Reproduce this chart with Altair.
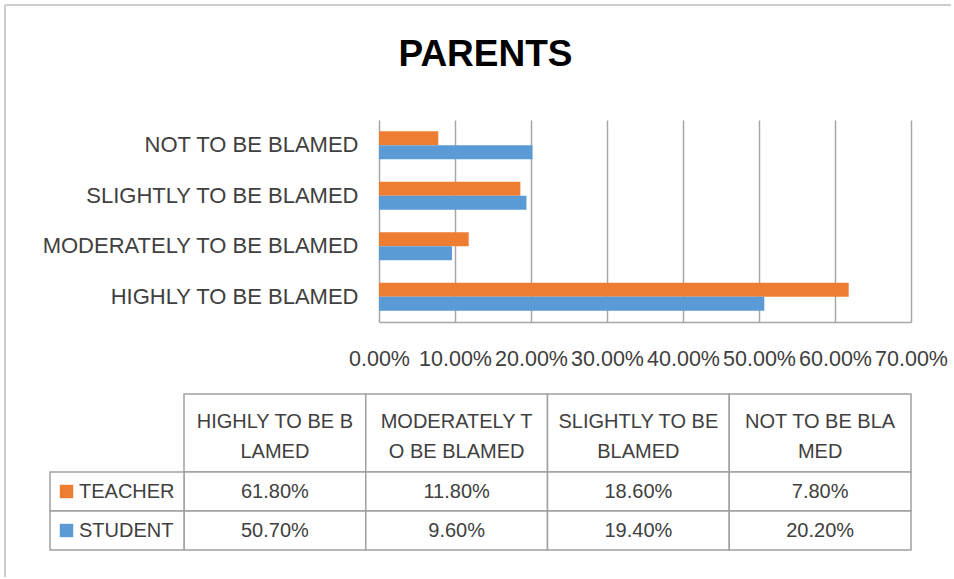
import altair as alt
import pandas as pd

# ---- data ----
CATEGORIES = ["HIGHLY TO BE BLAMED", "MODERATELY TO BE BLAMED",
              "SLIGHTLY TO BE BLAMED", "NOT TO BE BLAMED"]
HEADER_TEXT = ["HIGHLY TO BE B\nLAMED", "MODERATELY T\nO BE BLAMED",
               "SLIGHTLY TO BE\nBLAMED", "NOT TO BE BLA\nMED"]
SERIES = ["TEACHER", "STUDENT"]
TEACHER = [61.8, 11.8, 18.6, 7.8]
STUDENT = [50.7, 9.6, 19.4, 20.2]
X_TICKS = [0, 10, 20, 30, 40, 50, 60, 70]

# ---- style ----
COLORS = ["#ED7D31", "#5B9BD5"]
FONT = "Liberation Sans"
TEXT = "#404040"
GRID = "#a6a6a6"
BORDER = "#a0a0a0"
FRAME = "#cccccc"

# ---- layout (pixels, relative to the bar plot's top-left corner) ----
PLOT_W, PLOT_H = 532, 202
PAD = {"left": 379, "top": 120, "right": 40, "bottom": 255}
TABLE_LEFT, TABLE_COL0, TABLE_RIGHT = -329, -195, 532
TABLE_TOP, TABLE_BOTTOM = 274, 430
FRAME_X, FRAME_Y = -374, -115

# ---- bar chart ----
series_values = {"TEACHER": TEACHER, "STUDENT": STUDENT}
bar_df = pd.DataFrame([
    {"category": c, "series": s, "value": v}
    for s in SERIES for c, v in zip(CATEGORIES, series_values[s])
])

color = alt.Color("series:N", scale=alt.Scale(domain=SERIES, range=COLORS), legend=None)

bars = alt.Chart(bar_df).mark_bar().encode(
    x=alt.X("value:Q",
            scale=alt.Scale(domain=[0, 70], nice=False, zero=True),
            axis=alt.Axis(values=X_TICKS, title=None,
                          labelExpr="format(datum.value, '.2f') + '%'",
                          grid=True, gridColor=GRID, gridWidth=1.5,
                          domain=True, domainColor=GRID, domainWidth=1.5,
                          ticks=False, tickSize=0, labelPadding=26, labelBaseline="top",
                          labelFont=FONT, labelFontSize=21.5, labelColor=TEXT,
                          labelOverlap=False, labelFlush=False, labelBound=False)),
    y=alt.Y("category:N", sort=CATEGORIES[::-1],
            scale=alt.Scale(paddingInner=0.445, paddingOuter=0.2225),
            axis=alt.Axis(title=None, domain=False, ticks=False, tickSize=0,
                          labelPadding=21, labelFont=FONT, labelFontSize=22,
                          labelColor=TEXT, labelLimit=0)),
    yOffset=alt.YOffset("series:N", sort=SERIES),
    color=color,
)

# ---- data table (x in column units, y in text-line units) ----
col_w = (TABLE_RIGHT - TABLE_COL0) / len(CATEGORIES)
key_w = (TABLE_COL0 - TABLE_LEFT) / col_w
tx = alt.Scale(domain=[-key_w, len(CATEGORIES)], range=[TABLE_LEFT, TABLE_RIGHT], zero=False, nice=False)
ty = alt.Scale(domain=[0, 4], range=[TABLE_TOP, TABLE_BOTTOM], zero=False, nice=False)

cells = []
for i in range(len(CATEGORIES)):
    cells.append({"x0": i, "x1": i + 1, "y0": 0, "y1": 2})
    for r in range(len(SERIES)):
        cells.append({"x0": i, "x1": i + 1, "y0": 2 + r, "y1": 3 + r})
for r in range(len(SERIES)):
    cells.append({"x0": -key_w, "x1": 0, "y0": 2 + r, "y1": 3 + r})
cell_df = pd.DataFrame(cells)

table_cells = alt.Chart(cell_df).mark_rect(fill="white", stroke=BORDER, strokeWidth=1.5).encode(
    x=alt.X("x0:Q", scale=tx, axis=None), x2="x1:Q",
    y=alt.Y("y0:Q", scale=ty, axis=None), y2="y1:Q",
)

header_df = pd.DataFrame({"x": [i + 0.5 for i in range(len(CATEGORIES))],
                          "y": [1] * len(CATEGORIES), "label": HEADER_TEXT})
header_text = alt.Chart(header_df).mark_text(
    font=FONT, fontSize=20, color=TEXT, lineBreak="\n", lineHeight=30,
    align="center", baseline="middle", dy=-11,
).encode(x=alt.X("x:Q", scale=tx, axis=None), y=alt.Y("y:Q", scale=ty, axis=None), text="label:N")

value_df = pd.DataFrame([
    {"x": i + 0.5, "y": 2.5 + r, "label": f"{v:.2f}%"}
    for r, s in enumerate(SERIES) for i, v in enumerate(series_values[s])
])
value_text = alt.Chart(value_df).mark_text(
    font=FONT, fontSize=20, color=TEXT, align="center", baseline="middle",
).encode(x=alt.X("x:Q", scale=tx, axis=None), y=alt.Y("y:Q", scale=ty, axis=None), text="label:N")

key_df = pd.DataFrame({"x": [-key_w] * len(SERIES), "y": [2.5 + r for r in range(len(SERIES))],
                       "series": SERIES})
key_marks = alt.Chart(key_df).mark_square(size=180, opacity=1).encode(
    x=alt.X("x:Q", scale=tx, axis=None), y=alt.Y("y:Q", scale=ty, axis=None),
    xOffset=alt.value(16.5), color=color,
)
key_text = alt.Chart(key_df).mark_text(
    font=FONT, fontSize=20, color=TEXT, align="left", baseline="middle", dx=29,
).encode(x=alt.X("x:Q", scale=tx, axis=None), y=alt.Y("y:Q", scale=ty, axis=None), text="series:N")

# ---- chart-area border (top and left edges) ----
one = pd.DataFrame({"k": [0]})
frame_top = alt.Chart(one).mark_rule(color=FRAME, strokeWidth=2).encode(
    x=alt.value(FRAME_X), x2=alt.value(FRAME_X + 960), y=alt.value(FRAME_Y))
frame_left = alt.Chart(one).mark_rule(color=FRAME, strokeWidth=2).encode(
    x=alt.value(FRAME_X), y=alt.value(FRAME_Y), y2=alt.value(FRAME_Y + 600))

chart = alt.layer(
    bars, table_cells, header_text, value_text, key_marks, key_text, frame_top, frame_left
).resolve_scale(
    x="independent", y="independent"
).properties(
    width=PLOT_W, height=PLOT_H, padding=PAD,
    autosize=alt.AutoSizeParams(type="none"),
    title=alt.TitleParams("PARENTS", font=FONT, fontSize=37, fontWeight="bold",
                          color="#000000", anchor="middle", dx=-159.5, dy=74),
).configure_view(stroke=None)

chart.save("out.html", embed_options={"renderer": "svg", "actions": False})
